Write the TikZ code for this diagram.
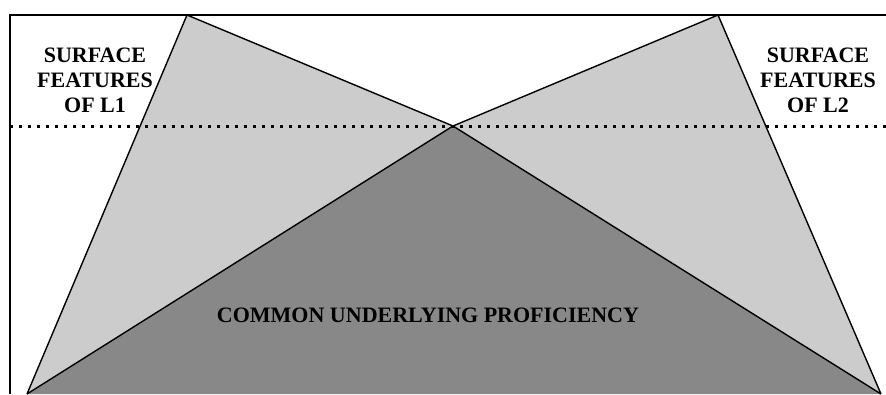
\documentclass[tikz,border=0pt]{standalone}
\usepackage{fontspec}
\setmainfont{Liberation Serif}
\usetikzlibrary{positioning}
\definecolor{SurfaceGray}{RGB}{204,204,204}
\definecolor{CoreGray}{RGB}{136,136,136}

\begin{document}
\begin{tikzpicture}[x=1pt,y=-1pt,
  label text/.style={font=\bfseries\fontsize{22}{25}\selectfont,align=center,inner sep=0pt}]
\useasboundingbox (0,0) rectangle (886,394);
% corners of the three triangles
\coordinate (topL) at (187,15);
\coordinate (topR) at (718,15);
\coordinate (meet) at (453,126);
\coordinate (baseL) at (27,394);
\coordinate (baseR) at (881,394);
\coordinate (lineL) at (10,126);
\coordinate (lineR) at (886,126);

\fill[SurfaceGray] (topL) -- (meet) -- (baseL) -- cycle;
\fill[SurfaceGray] (topR) -- (meet) -- (baseR) -- cycle;
\fill[CoreGray] (baseL) -- (meet) -- (baseR) -- cycle;

% frame
\draw[line width=2pt] (10,394) -- (10,15) -- (886,15);
\draw[line width=3pt,dash pattern=on 3pt off 6pt] (lineL) -- (lineR);

\draw[line width=1.4pt] (baseL) -- (topL) -- (meet) -- (baseL);
\draw[line width=1.4pt] (baseR) -- (topR) -- (meet) -- (baseR);

\node[label text] (surfL) at (95,80) {SURFACE\\FEATURES\\OF L1};
\node[label text] (surfR) at (818,80) {SURFACE\\FEATURES\\OF L2};
\node[label text] (cup) at (428,315) {COMMON UNDERLYING PROFICIENCY};
\end{tikzpicture}
\end{document}
